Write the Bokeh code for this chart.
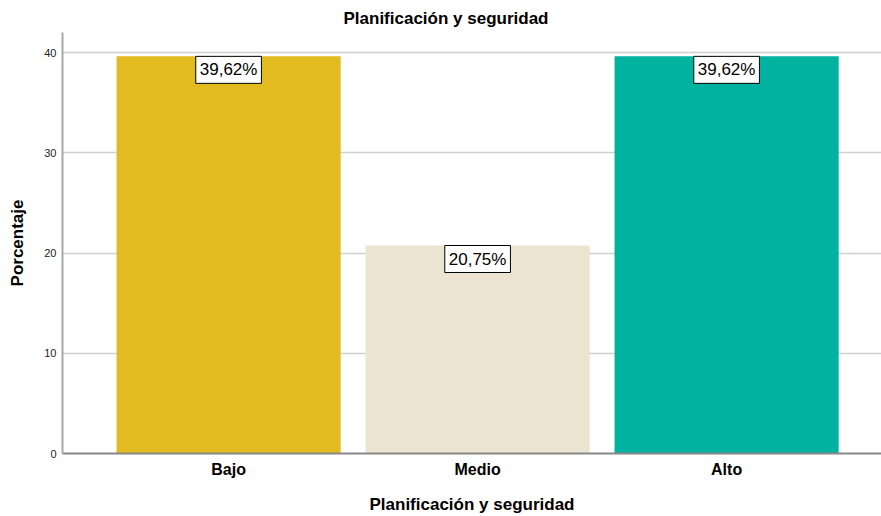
from bokeh.plotting import figure
from bokeh.models import ColumnDataSource, Range1d, FixedTicker, Label
from bokeh.embed import file_html
from bokeh.resources import INLINE

categories = ["Bajo", "Medio", "Alto"]
percentages = [39.62, 20.75, 39.62]
labels = ["39,62%", "20,75%", "39,62%"]
colors = ["#E1BB1F", "#EAE4D0", "#00B3A0"]
y_ticks = [0, 10, 20, 30, 40]

xs = list(range(len(categories)))
src = ColumnDataSource(dict(x=xs, top=percentages, color=colors))

FONT = "Liberation Sans"

p = figure(width=881, height=516, output_backend="svg", toolbar_location=None,
           x_range=Range1d(-0.667, 2.622), y_range=Range1d(0, 42),
           min_border_left=62, min_border_right=0, min_border_top=32, min_border_bottom=62)
p.title.text = "Planificación y seguridad"
p.title.align = "left"
p.title.text_font = FONT
p.title.text_font_size = "17px"
p.title.text_font_style = "bold"
p.title.text_color = "#000000"
p.title.offset = 281
p.title.standoff = 10

p.vbar(x="x", top="top", width=0.9, bottom=0, fill_color="color", line_color=None, source=src)

for xi, yi, lab in zip(xs, percentages, labels):
    p.add_layout(Label(x=xi, y=yi, text=lab, text_align="center", text_baseline="top",
                       y_offset=0, text_font=FONT, text_font_size="17px", text_font_style="normal",
                       text_color="#000000", background_fill_color="#FFFFFF",
                       border_line_color="#000000", border_line_width=1, padding=4))

p.outline_line_color = None
p.xgrid.visible = False
p.ygrid.grid_line_color = "#D0D0D0"
p.ygrid.grid_line_width = 1.5
p.ygrid.ticker = FixedTicker(ticks=y_ticks)

p.yaxis.ticker = FixedTicker(ticks=y_ticks)
p.yaxis.axis_label = "Porcentaje"
p.yaxis.axis_label_text_font = FONT
p.yaxis.axis_label_text_font_size = "17px"
p.yaxis.axis_label_text_font_style = "bold"
p.yaxis.axis_label_text_color = "#000000"
p.yaxis.axis_label_standoff = 14
p.yaxis.major_label_text_font = FONT
p.yaxis.major_label_text_font_size = "11px"
p.yaxis.major_label_text_color = "#222222"
p.yaxis.major_tick_line_color = None
p.yaxis.major_tick_out = 0
p.yaxis.major_tick_in = 0
p.yaxis.minor_tick_line_color = None
p.yaxis.minor_tick_out = 0
p.yaxis.axis_line_color = "#A8A8A8"
p.yaxis.axis_line_width = 2
p.yaxis.major_label_standoff = 6

p.xaxis.ticker = FixedTicker(ticks=xs)
p.xaxis.major_label_overrides = {i: c for i, c in enumerate(categories)}
p.xaxis.axis_label = "Planificación y seguridad"
p.xaxis.axis_label_text_font = FONT
p.xaxis.axis_label_text_font_size = "17px"
p.xaxis.axis_label_text_font_style = "bold"
p.xaxis.axis_label_text_color = "#000000"
p.xaxis.axis_label_standoff = 14
p.xaxis.major_label_text_font = FONT
p.xaxis.major_label_text_font_size = "16px"
p.xaxis.major_label_text_font_style = "bold"
p.xaxis.major_label_text_color = "#000000"
p.xaxis.major_tick_line_color = None
p.xaxis.major_tick_out = 0
p.xaxis.major_tick_in = 0
p.xaxis.minor_tick_line_color = None
p.xaxis.minor_tick_out = 0
p.xaxis.axis_line_color = "#888888"
p.xaxis.axis_line_width = 2
p.xaxis.major_label_standoff = 7

open("out.html", "w").write(file_html(p, INLINE))
